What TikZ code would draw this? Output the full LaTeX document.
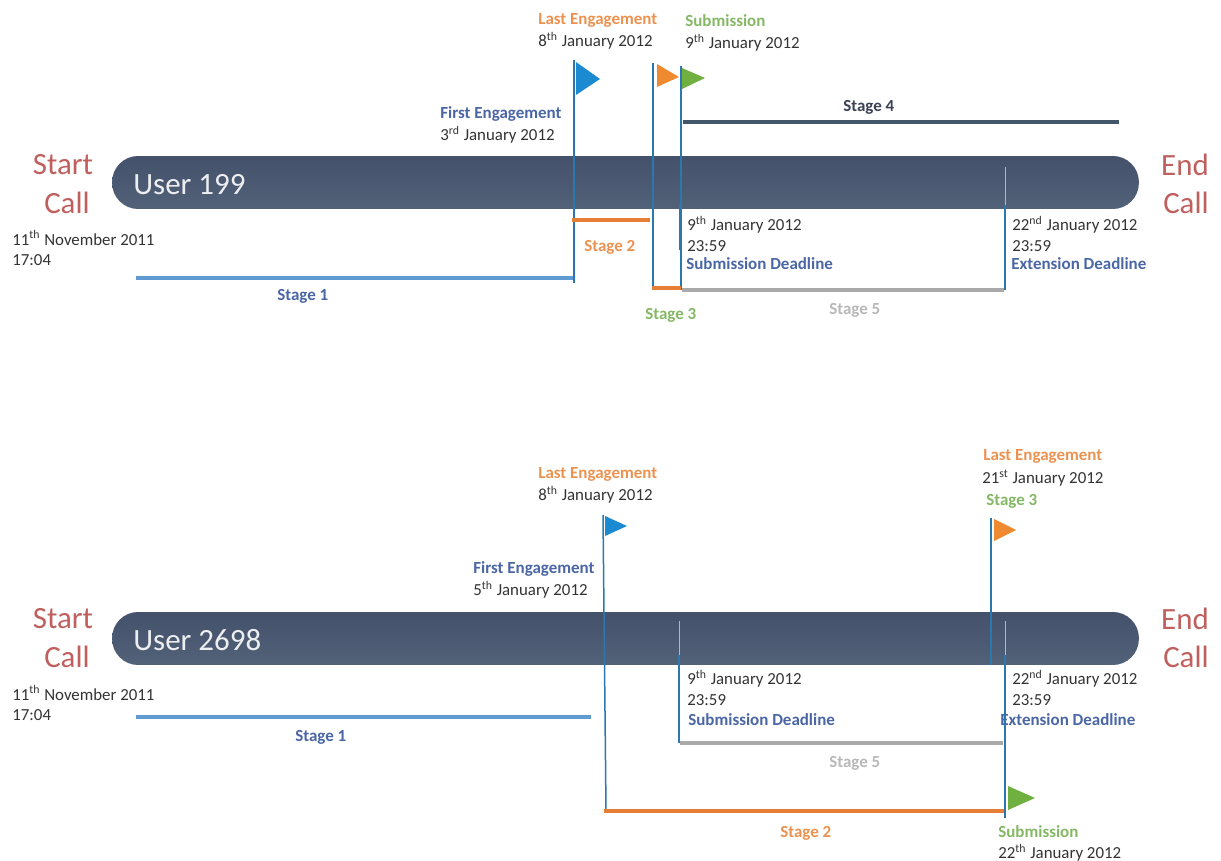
\documentclass[tikz,border=0pt]{standalone}
\usepackage{fontspec}
\setmainfont{Carlito}
\definecolor{barA}{HTML}{43516A}
\definecolor{barB}{HTML}{526279}
\definecolor{poleC}{HTML}{2A78AE}
\definecolor{tickC}{HTML}{AEB8C4}
\definecolor{blueT}{HTML}{4A66A4}
\definecolor{orangeT}{HTML}{EC9250}
\definecolor{greenT}{HTML}{85B865}
\definecolor{greyT}{HTML}{B8B8B8}
\definecolor{darkT}{HTML}{333333}
\definecolor{redT}{HTML}{C0605E}
\definecolor{stA}{HTML}{5F9BD0}
\definecolor{stB}{HTML}{E67E36}
\definecolor{stD}{HTML}{44566C}
\definecolor{stE}{HTML}{A9A9A9}
\definecolor{flagB}{HTML}{1C8AD0}
\definecolor{flagO}{HTML}{F08A30}
\definecolor{flagG}{HTML}{6FB040}

\begin{document}
\begin{tikzpicture}[x=0.02cm, y=-0.02cm,
	bar/.style={rounded corners=0.52cm, minimum width=20.54cm, minimum height=1.06cm, top color=barA, bottom color=barB, inner sep=0pt},
	usr/.style={anchor=west, text=white!90!barA, font=\fontsize{17.6}{20}\selectfont, inner sep=0pt},
	cll/.style={text=redT, font=\fontsize{17.6}{20}\selectfont, inner sep=0pt},
	d/.style={anchor=west, text=darkT, font=\fontsize{9.6}{11}\selectfont, inner sep=0pt},
	l/.style={anchor=west, font=\fontsize{9.65}{11}\selectfont\bfseries, inner sep=0pt, yshift=-.02cm},
	lb/.style={l, text=blueT}, lo/.style={l, text=orangeT}, lg/.style={l, text=greenT}, ly/.style={l, text=greyT},
	p/.style={draw=poleC, line width=.03cm},
	t/.style={draw=tickC, line width=.02cm},
	s/.style={line width=.07cm}]
	\useasboundingbox (0,0) rectangle (1221,861);

	% user 199
	\node[bar] (barA) at (625.5,182.5) {};
	\node[usr] (userA) at (133,185) {User 199};
	\node[cll] (startA) at (63,165) {Start};
	\node[cll] (callA) at (67,203) {Call};
	\node[cll] (endA) at (1185,165) {End};
	\node[cll] (callB) at (1186,203) {Call};
	\node[d] (dateA) at (12,238) {11\textsuperscript{th} November 2011};
	\node[d] (timeA) at (12,260) {17:04};

	\node[lb] (firstA) at (440,113) {First Engagement};
	\node[d] (firstAd) at (440,135) {3\textsuperscript{rd} January 2012};
	\node[lo] (lastA) at (538,19) {Last Engagement};
	\node[d] (lastAd) at (538,41) {8\textsuperscript{th} January 2012};
	\node[lg] (subA) at (685,20) {Submission};
	\node[d] (subAd) at (685,43) {9\textsuperscript{th} January 2012};
	\node[d] (dlA) at (687,225) {9\textsuperscript{th} January 2012};
	\node[d] (dlAt) at (687,246) {23:59};
	\node[lb] (dlAl) at (686,263) {Submission Deadline};
	\node[d] (exA) at (1012,225) {22\textsuperscript{nd} January 2012};
	\node[d] (exAt) at (1012,246) {23:59};
	\node[lb] (exAl) at (1011,263) {Extension Deadline};

	\node[lb] (s1A) at (277,295) {Stage 1};
	\node[lo] (s2A) at (584,246) {Stage 2};
	\node[lg] (s3A) at (645,314) {Stage 3};
	\node[lb, text=darkT!70!blueT] (s4A) at (843,106) {Stage 4};
	\node[ly] (s5A) at (829,309) {Stage 5};

	\coordinate (a1t) at (574,60);
	\coordinate (a1b) at (574,283);
	\coordinate (a2t) at (653,63);
	\coordinate (a2b) at (653,288);
	\coordinate (a3t) at (681,66);
	\coordinate (a3b) at (681,290);
	\coordinate (a4t) at (680,167);
	\coordinate (a4m) at (680,205);
	\coordinate (a4b) at (680,250);
	\coordinate (a5t) at (1005,167);
	\coordinate (a5m) at (1005,205);
	\coordinate (a5b) at (1005,290);

	\draw[t] (a4t) -- (a4m);
	\draw[t] (a5t) -- (a5m);
	\draw[p] (a1t) -- (a1b);
	\draw[p] (a2t) -- (a2b);
	\draw[p] (a3t) -- (a3b);
	\draw[p, line width=.04cm] (a4m) -- (a4b);
	\draw[p] (a5m) -- (a5b);

	\fill[flagB] (576,62) -- (600,79) -- (576,95) -- cycle;
	\fill[flagO] (657,64) -- (679,77) -- (657,87) -- cycle;
	\fill[flagG] (682,68) -- (705,78) -- (682,89) -- cycle;

	\coordinate (a1s) at (136,278);
	\coordinate (a1e) at (573,278);
	\coordinate (a2s) at (572,220);
	\coordinate (a2e) at (650,220);
	\coordinate (a3s) at (652,288);
	\coordinate (a3e) at (681,288);
	\coordinate (a4s) at (683,122);
	\coordinate (a4e) at (1119,122);
	\coordinate (a5s) at (682,290);
	\coordinate (a5e) at (1004,290);
	\draw[s, stA] (a1s) -- (a1e);
	\draw[s, stB] (a2s) -- (a2e);
	\draw[s, stB] (a3s) -- (a3e);
	\draw[s, stD] (a4s) -- (a4e);
	\draw[s, stE] (a5s) -- (a5e);

	% user 2698
	\node[bar] (barB) at (625.5,638.5) {};
	\node[usr] (userB) at (133,640) {User 2698};
	\node[cll] (startB) at (63,619) {Start};
	\node[cll] (callC) at (67,657) {Call};
	\node[cll] (endB) at (1185,619) {End};
	\node[cll] (callD) at (1186,657) {Call};
	\node[d] (dateB) at (12,693) {11\textsuperscript{th} November 2011};
	\node[d] (timeB) at (12,715) {17:04};

	\node[lb] (firstB) at (473,568) {First Engagement};
	\node[d] (firstBd) at (473,590) {5\textsuperscript{th} January 2012};
	\node[lo] (lastB) at (538,473) {Last Engagement};
	\node[d] (lastBd) at (538,495) {8\textsuperscript{th} January 2012};
	\node[lo] (lastC) at (983,455) {Last Engagement};
	\node[d] (lastCd) at (982,478) {21\textsuperscript{st} January 2012};
	\node[lg] (s3B) at (986,500) {Stage 3};
	\node[d] (dlB) at (687,679) {9\textsuperscript{th} January 2012};
	\node[d] (dlBt) at (687,700) {23:59};
	\node[lb] (dlBl) at (688,719) {Submission Deadline};
	\node[d] (exB) at (1012,679) {22\textsuperscript{nd} January 2012};
	\node[d] (exBt) at (1012,700) {23:59};
	\node[lb] (exBl) at (1000,719) {Extension Deadline};
	\node[lg] (subB) at (998,831) {Submission};
	\node[d] (subBd) at (998,853) {22\textsuperscript{th} January 2012};

	\node[lb] (s1B) at (295,736) {Stage 1};
	\node[lo] (s2B) at (780,832) {Stage 2};
	\node[ly] (s5B) at (829,762) {Stage 5};

	\coordinate (b1t) at (603,515);
	\coordinate (b1b) at (606,810);
	\coordinate (b2t) at (991,518);
	\coordinate (b2b) at (991,665);
	\coordinate (b4t) at (679,621);
	\coordinate (b4m) at (679,655);
	\coordinate (b4b) at (679,743);
	\coordinate (b5t) at (1005,621);
	\coordinate (b5m) at (1005,655);
	\coordinate (b5b) at (1005,818);

	\draw[t] (b4t) -- (b4m);
	\draw[t] (b5t) -- (b5m);
	\draw[p] (b1t) -- (b1b);
	\draw[p] (b2t) -- (b2b);
	\draw[p] (b4m) -- (b4b);
	\draw[p] (b5m) -- (b5b);

	\fill[flagB] (605,516) -- (627,526) -- (605,536) -- cycle;
	\fill[flagO] (994,519) -- (1016,530) -- (994,541) -- cycle;
	\fill[flagG] (1008,786) -- (1035,798) -- (1008,810) -- cycle;

	\coordinate (b1s) at (136,717);
	\coordinate (b1e) at (591,717);
	\coordinate (b2s) at (604,811);
	\coordinate (b2e) at (1004,811);
	\coordinate (b5s) at (680,743);
	\coordinate (b5e) at (1003,743);
	\draw[s, stA] (b1s) -- (b1e);
	\draw[s, stB] (b2s) -- (b2e);
	\draw[s, stE] (b5s) -- (b5e);
\end{tikzpicture}
\end{document}
